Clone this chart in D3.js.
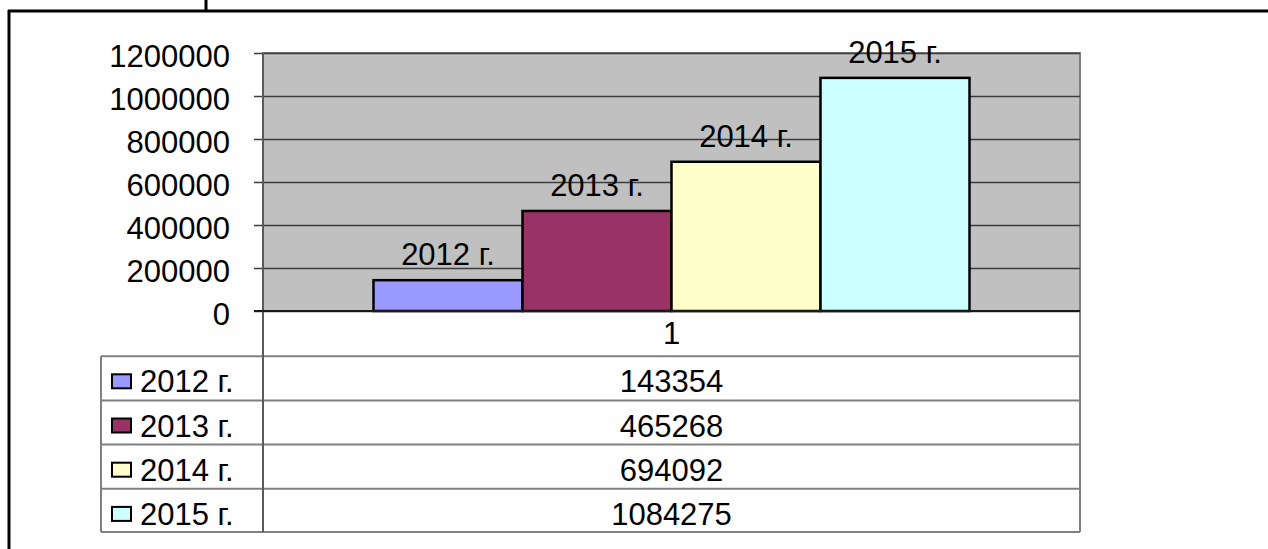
<!DOCTYPE html>
<html>
<head>
<meta charset="utf-8">
<script src="https://cdn.jsdelivr.net/npm/d3@7"></script>
<style>
  html, body { margin: 0; padding: 0; background: #fff; }
  svg { display: block; }
  text { font-family: "Liberation Sans", Arial, sans-serif; fill: #000; }
</style>
</head>
<body>
<div id="chart"></div>
<script>
// data
var categories = ["1"];
var seriesNames = ["2012 г.", "2013 г.", "2014 г.", "2015 г."];
var seriesValues = [143354, 465268, 694092, 1084275];
var seriesColors = ["#9999ff", "#993366", "#ffffcc", "#ccffff"];
var yTicks = [0, 200000, 400000, 600000, 800000, 1000000, 1200000];

var W = 1268, H = 549;
var plot = {left: 263, right: 1080, top: 53, bottom: 311};
var table = {left: 101, bottom: 532};
var fontSize = 31;

var svg = d3.select("#chart").append("svg")
    .attr("width", W)
    .attr("height", H);

// outer frame (only top and left visible)
svg.append("line")
    .attr("x1", 8).attr("x2", W).attr("y1", 11).attr("y2", 11)
    .attr("stroke", "#000").attr("stroke-width", 3);
svg.append("line")
    .attr("x1", 9).attr("x2", 9).attr("y1", 10).attr("y2", H)
    .attr("stroke", "#000").attr("stroke-width", 3);
svg.append("line")
    .attr("x1", 206).attr("x2", 206).attr("y1", 0).attr("y2", 11)
    .attr("stroke", "#000").attr("stroke-width", 3);

var y = d3.scaleLinear()
    .domain([0, d3.max(yTicks)])
    .range([plot.bottom, plot.top]);

var x0 = d3.scaleBand()
    .domain(categories)
    .range([plot.left, plot.right])
    .paddingInner(0)
    .paddingOuter(0.1854);

var x1 = d3.scaleBand()
    .domain(seriesNames)
    .range([0, x0.bandwidth()])
    .padding(0);

// plot background
svg.append("rect")
    .attr("x", plot.left)
    .attr("y", plot.top)
    .attr("width", plot.right - plot.left)
    .attr("height", plot.bottom - plot.top)
    .attr("fill", "#c0c0c0")
    .attr("stroke", "#808080")
    .attr("stroke-width", 2);

// gridlines
var grid = svg.append("g")
    .attr("transform", "translate(" + plot.left + ",0)")
    .call(d3.axisLeft(y).tickValues(yTicks).tickSize(-(plot.right - plot.left)).tickFormat(""));
grid.select(".domain").remove();
grid.selectAll(".tick line").attr("stroke", "#3c3c3c").attr("stroke-width", 1.5);

// y axis
var yAxis = svg.append("g")
    .attr("transform", "translate(" + plot.left + ",0)")
    .call(d3.axisLeft(y).tickValues(yTicks).tickSize(9).tickPadding(24).tickFormat(d3.format("d")));
yAxis.select(".domain").remove();
yAxis.selectAll(".tick line").attr("stroke", "#3c3c3c").attr("stroke-width", 1.5);
yAxis.selectAll(".tick text")
    .attr("font-size", fontSize)
    .attr("font-family", "Liberation Sans, Arial, sans-serif")
    .attr("dy", "0.45em")
    .attr("fill", "#000");

// bars
var bars = svg.append("g");
categories.forEach(function(cat) {
    bars.selectAll(null)
        .data(seriesNames)
        .enter().append("rect")
        .attr("x", function(d) { return x0(cat) + x1(d); })
        .attr("y", function(d, i) { return y(seriesValues[i]); })
        .attr("width", x1.bandwidth())
        .attr("height", function(d, i) { return y(0) - y(seriesValues[i]); })
        .attr("fill", function(d, i) { return seriesColors[i]; })
        .attr("stroke", "#000")
        .attr("stroke-width", 2.5);

    bars.selectAll(null)
        .data(seriesNames)
        .enter().append("text")
        .attr("x", function(d) { return x0(cat) + x1(d) + x1.bandwidth() / 2; })
        .attr("y", function(d, i) { return y(seriesValues[i]) - 15; })
        .attr("text-anchor", "middle")
        .attr("font-size", fontSize)
        .text(function(d) { return d; });
});

// data table
var rows = d3.scaleBand()
    .domain(["cat"].concat(seriesNames))
    .range([plot.bottom, table.bottom]);

var tbl = svg.append("g");
var lineColor = "#808080";

// horizontal row lines
seriesNames.forEach(function(s) {
    tbl.append("line")
        .attr("x1", table.left).attr("x2", plot.right)
        .attr("y1", rows(s) + 1).attr("y2", rows(s) + 1)
        .attr("stroke", lineColor).attr("stroke-width", 2);
});
tbl.append("line")
    .attr("x1", table.left).attr("x2", plot.right)
    .attr("y1", table.bottom).attr("y2", table.bottom)
    .attr("stroke", lineColor).attr("stroke-width", 2);

// verticals
tbl.append("line")
    .attr("x1", table.left).attr("x2", table.left)
    .attr("y1", rows(seriesNames[0]) + 1).attr("y2", table.bottom)
    .attr("stroke", lineColor).attr("stroke-width", 2);
tbl.append("line")
    .attr("x1", plot.right).attr("x2", plot.right)
    .attr("y1", plot.bottom).attr("y2", table.bottom)
    .attr("stroke", lineColor).attr("stroke-width", 2);
tbl.append("line")
    .attr("x1", plot.left).attr("x2", plot.left)
    .attr("y1", plot.top).attr("y2", table.bottom)
    .attr("stroke", "#5a5a5a").attr("stroke-width", 2);

// category axis line (baseline)
svg.append("line")
    .attr("x1", plot.left - 9).attr("x2", plot.right)
    .attr("y1", y(0)).attr("y2", y(0))
    .attr("stroke", "#1a1a1a").attr("stroke-width", 2);

// category label row
categories.forEach(function(cat) {
    tbl.append("text")
        .attr("x", x0(cat) + x0.bandwidth() / 2)
        .attr("y", rows("cat") + rows.bandwidth() / 2)
        .attr("dy", "0.36em")
        .attr("text-anchor", "middle")
        .attr("font-size", fontSize)
        .text(cat);
});

// series rows: legend key + value
var rowG = tbl.selectAll(".row")
    .data(seriesNames)
    .enter().append("g")
    .attr("class", "row")
    .attr("transform", function(d) { return "translate(0," + (rows(d) + rows.bandwidth() / 2 + 4) + ")"; });

rowG.append("rect")
    .attr("x", 112)
    .attr("y", -7)
    .attr("width", 19)
    .attr("height", 14)
    .attr("fill", function(d, i) { return seriesColors[i]; })
    .attr("stroke", "#000")
    .attr("stroke-width", 2);

rowG.append("text")
    .attr("x", 140)
    .attr("dy", "0.36em")
    .attr("font-size", fontSize)
    .text(function(d) { return d; });

rowG.append("text")
    .attr("x", x0(categories[0]) + x0.bandwidth() / 2)
    .attr("dy", "0.36em")
    .attr("text-anchor", "middle")
    .attr("font-size", fontSize)
    .text(function(d, i) { return seriesValues[i]; });
</script>
</body>
</html>
